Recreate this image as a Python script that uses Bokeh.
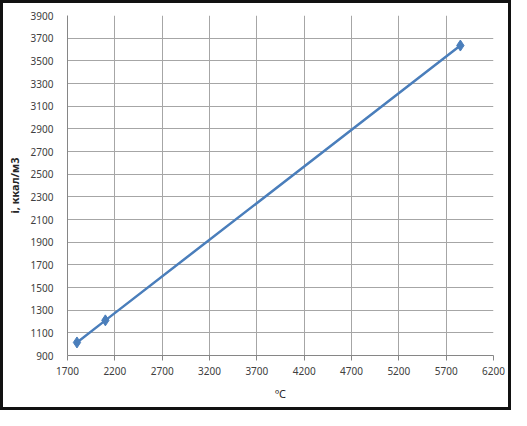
from bokeh.plotting import figure
from bokeh.models import FixedTicker, Range1d
from bokeh.embed import file_html
from bokeh.resources import INLINE

# data
temp_c = [1800, 2100, 5850]
enthalpy = [1015, 1210, 3635]
x_ticks = [1700, 2200, 2700, 3200, 3700, 4200, 4700, 5200, 5700, 6200]
y_ticks = [900, 1100, 1300, 1500, 1700, 1900, 2100, 2300, 2500, 2700, 2900, 3100, 3300, 3500, 3700, 3900]
x_title = "ºC"
y_title = "i, ккал/м3"

p = figure(width=511, height=410, output_backend="svg", toolbar_location=None,
           x_range=Range1d(1700, 6200), y_range=Range1d(900, 3900),
           min_border_left=61, min_border_right=21, min_border_top=12, min_border_bottom=58)
p.styles = {"border": "3px solid #111111"}
p.outline_line_color = None
p.background_fill_color = "white"
p.border_fill_color = "white"

line_color = "#4A7EBB"
p.line(temp_c, enthalpy, line_color=line_color, line_width=2.5)
p.scatter(temp_c, enthalpy, marker="diamond", size=11, fill_color=line_color, line_color=line_color)

font = "Noto Sans"
for ax in (p.xaxis[0], p.yaxis[0]):
    ax.axis_line_color = "#868686"
    ax.major_label_text_font = font
    ax.major_label_text_font_size = "10px"
    ax.major_label_text_color = "#404040"
    ax.minor_tick_line_color = None
    ax.axis_label_text_font = font
    ax.axis_label_text_font_size = "11px"
    ax.axis_label_text_color = "#262626"

p.xaxis.ticker = FixedTicker(ticks=x_ticks)
p.yaxis.ticker = FixedTicker(ticks=y_ticks)
p.xaxis.major_tick_line_color = "#868686"
p.xaxis.major_tick_out = 5
p.xaxis.major_tick_in = 0
p.yaxis.major_tick_line_color = None
p.xaxis.major_label_standoff = 6
p.yaxis.major_label_standoff = 8
p.xaxis.axis_label = x_title
p.yaxis.axis_label = y_title
p.xaxis.axis_label_text_font_style = "normal"
p.yaxis.axis_label_text_font_style = "bold"
p.xaxis.axis_label_standoff = 8
p.yaxis.axis_label_standoff = 6

p.xgrid.ticker = FixedTicker(ticks=x_ticks)
p.ygrid.ticker = FixedTicker(ticks=y_ticks)
p.grid.grid_line_color = "#a6a6a6"
p.grid.grid_line_width = 1

open("out.html", "w").write(file_html(p, INLINE))
